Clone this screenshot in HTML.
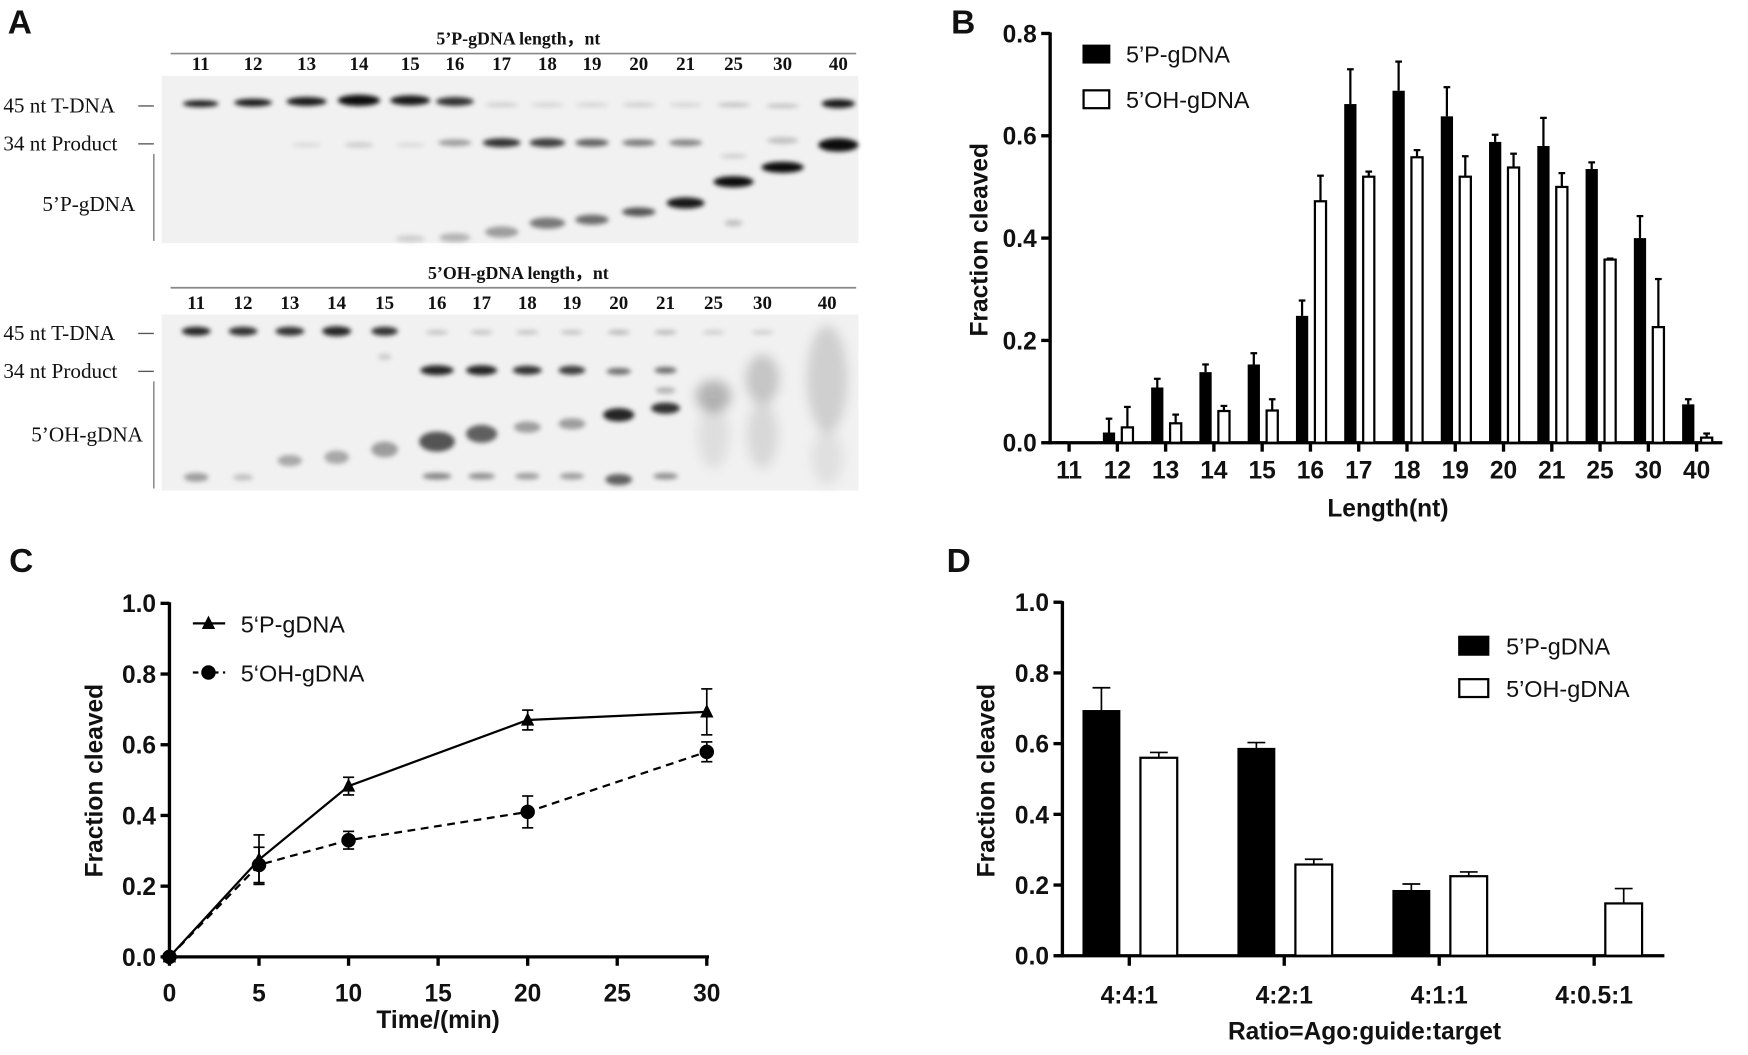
<!DOCTYPE html>
<html><head><meta charset="utf-8"><style>
html,body{margin:0;padding:0;background:#fff;}
svg{display:block;}
.ax{font-family:"Liberation Sans",sans-serif;font-weight:bold;fill:#111;}
.lg{font-family:"Liberation Sans",sans-serif;fill:#111;}
.sf{font-family:"Liberation Serif",serif;fill:#111;}
</style></head><body>
<svg id="fig" width="1748" height="1055" viewBox="0 0 1568 946" preserveAspectRatio="none" xmlns="http://www.w3.org/2000/svg">
<defs>
<filter id="blur1" x="-50%" y="-100%" width="200%" height="300%"><feGaussianBlur stdDeviation="2.2"/></filter>
<filter id="blur2" x="-50%" y="-100%" width="200%" height="300%"><feGaussianBlur stdDeviation="5"/></filter>
</defs>
<g id="panelA"></g>
<g id="panelB"></g>
<g id="panelC"></g>
<g id="panelD"></g>
</svg>
<script>
// ---------- Panel B data ----------
const bCategories = ["11","12","13","14","15","16","17","18","19","20","21","25","30","40"];
const bPValues = [0.003,0.02,0.108,0.138,0.153,0.248,0.662,0.688,0.638,0.588,0.58,0.535,0.4,0.075];
const bPErrors = [0.0,0.027,0.017,0.015,0.022,0.03,0.068,0.057,0.057,0.014,0.055,0.013,0.043,0.01];
const bOHValues = [0.0,0.03,0.038,0.062,0.063,0.472,0.52,0.558,0.52,0.538,0.5,0.358,0.226,0.01];
const bOHErrors = [0.0,0.04,0.017,0.01,0.022,0.05,0.01,0.014,0.04,0.027,0.027,0.002,0.094,0.008];
const bYTicks = [0.0,0.2,0.4,0.6,0.8];
// ---------- Panel C data ----------
const cTimes = [0,5,10,20,30];
const cPValues = [0,0.275,0.483,0.67,0.693];
const cPErrors = [0,0.07,0.025,0.028,0.065];
const cOHValues = [0,0.26,0.33,0.41,0.58];
const cOHErrors = [0,0.05,0.025,0.045,0.028];
const cXTicks = [0,5,10,15,20,25,30];
const cYTicks = [0.0,0.2,0.4,0.6,0.8,1.0];
// ---------- Panel D data ----------
const dCategories = ["4:4:1","4:2:1","4:1:1","4:0.5:1"];
const dPValues = [0.695,0.588,0.186,0];
const dPErrors = [0.063,0.015,0.017,0];
const dOHValues = [0.56,0.258,0.225,0.148];
const dOHErrors = [0.015,0.015,0.012,0.042];
const dYTicks = [0.0,0.2,0.4,0.6,0.8,1.0];

const NS="http://www.w3.org/2000/svg";
function mk(parent,tag,attrs,text){const e=document.createElementNS(NS,tag);for(const k in attrs)e.setAttribute(k,attrs[k]);if(text!==undefined)e.textContent=text;parent.appendChild(e);return e;}

// ---------- Panel A (gels) ----------
const A=document.getElementById('panelA');
let t=mk(A,'text',{x:7,y:30,class:'ax','font-size':30});t.textContent='A';


function gel(top,header,lanes,hdrY,lineY,numY,gy0,gy1,bands,smears,labels,vline){
  const g=mk(A,'g',{});
  
  
  const h=mk(g,'text',{x:465,y:hdrY,class:'sf','font-size':16,'font-weight':'bold','text-anchor':'middle'},header);
  
  
  mk(g,'line',{x1:153,x2:768,y1:lineY,y2:lineY,stroke:'#888','stroke-width':1.5});
  mk(g,'rect',{x:145,y:gy0,width:625,height:gy1-gy0,fill:'#f1f1f1'});
  lanes.forEach((l)=>{const n=mk(g,'text',{x:l[1],y:numY,class:'sf','font-size':17,'font-weight':'bold','text-anchor':'middle'},l[0]);
    
    });
  smears.forEach(s=>{mk(g,'ellipse',{cx:s[0],cy:s[1],rx:s[2],ry:s[3],fill:'#000','fill-opacity':s[4],filter:'url(#blur2)'});});
  bands.forEach(b=>{mk(g,'ellipse',{cx:b[0],cy:b[1],rx:b[2],ry:b[3],fill:'#000','fill-opacity':b[4],filter:'url(#blur1)'});});
  labels.forEach(lb=>{const e=mk(g,'text',{x:lb[1],y:lb[2],class:'sf','font-size':19},lb[0]);
    
    
    if(lb[3])mk(g,'line',{x1:lb[3],x2:lb[3]+14,y1:lb[2]-6,y2:lb[2]-6,stroke:'#555','stroke-width':1.2});});
  mk(g,'line',{x1:vline[0],x2:vline[0],y1:vline[1],y2:vline[2],stroke:'#777','stroke-width':1.2});
}
const topLanes=[["11",180],["12",227],["13",275],["14",322],["15",368],["16",408],["17",450],["18",491],["19",531],["20",573],["21",615],["25",658],["30",702],["40",752]];
const topBands=[[180,93,16,3,0.9],[227,92,17,3.5,0.9],[275,91,18,4,0.9],[322,90,19,5,0.95],[368,90,18,4.5,0.9],[408,91,17,4,0.8],
[450,94,15,2,0.15],[491,94,15,2,0.12],[531,94,15,2,0.12],[573,94,15,2,0.15],[615,94,15,2,0.12],[658,94,15,2,0.2],[702,95,15,2,0.2],[752,93,15,4,0.9],
[275,130,13,2,0.1],[322,130,13,2.5,0.15],[368,130,13,2,0.1],[408,128,15,3,0.35],[450,128,17,4,0.8],[491,128,16,4,0.75],[531,128,15,3.5,0.6],[573,128,15,3,0.5],[615,128,15,3,0.45],[658,140,12,2,0.15],[702,126,14,3,0.2],
[615,182,17,5,0.9],[573,190,15,4,0.65],[531,197,15,4.5,0.55],[491,200,16,5,0.5],[450,208,15,5,0.35],[408,213,14,4,0.25],[368,214,13,3,0.15],[658,163,18,5,0.95],[702,150,19,5,0.95],[752,130,18,6,0.95],[658,200,8,3,0.2]];
gel(true,"5’P-gDNA length，nt",topLanes,40,48,63,68,218,topBands,[],[["45 nt T-DNA",3,101,124],["34 nt Product",3,135,124],["5’P-gDNA",38,189,0]],[138,138,216]);
const botLanes=[["11",176],["12",218],["13",260],["14",302],["15",345],["16",392],["17",432],["18",473],["19",513],["20",555],["21",597],["25",640],["30",684],["40",742]];
const botBands=[[176,297,13,4,0.85],[218,297,13,4,0.8],[260,297,13,4,0.8],[302,297,13,4.5,0.85],[345,297,12,4,0.8],
[392,298,10,2,0.2],[432,298,10,2,0.2],[473,298,10,2,0.2],[513,298,10,2,0.2],[555,298,10,2,0.25],[597,298,10,2,0.25],[640,298,10,2,0.15],[684,298,10,2,0.15],
[392,332,15,4.5,0.85],[432,332,14,4.5,0.85],[473,332,13,4,0.8],[513,332,12,4,0.75],[555,333,11,3,0.55],[597,332,10,3,0.55],[345,320,6,3,0.15],
[597,366,13,5,0.8],[555,372,14,6,0.85],[513,380,12,5,0.35],[473,383,12,5,0.35],[432,389,14,8,0.6],[392,396,16,9,0.65],[345,403,12,7,0.35],[302,410,11,6,0.3],[260,413,11,5,0.3],
[176,428,11,4,0.35],[218,428,9,3,0.2],[392,427,13,3,0.45],[432,427,12,3,0.4],[473,427,11,3,0.35],[513,427,11,3,0.35],[555,430,12,5,0.6],[597,427,11,3,0.4],[597,350,9,3,0.25]];
const botSmears=[[640,355,16,14,0.25],[640,390,14,30,0.08],[684,340,15,22,0.18],[684,390,14,30,0.1],[742,340,18,48,0.14],[742,410,14,25,0.07]];
gel(false,"5’OH-gDNA length，nt",botLanes,250,258,277,282,440,botBands,botSmears,[["45 nt T-DNA",3,305,124],["34 nt Product",3,339,124],["5’OH-gDNA",28,396,0]],[138,342,438]);

// ---------- common axis helpers ----------
function yAxis(g,x,y0,y1,vmax,ticks,fmt){
  const ys=v=>y0-(v/vmax)*(y0-y1);
  mk(g,'line',{x1:x,x2:x,y1:y0+1.5,y2:y1-1,stroke:'#000','stroke-width':3});
  ticks.forEach(v=>{mk(g,'line',{x1:x-8,x2:x,y1:ys(v),y2:ys(v),stroke:'#000','stroke-width':3});
    const l=mk(g,'text',{x:x-12,y:ys(v)+8,class:'ax','font-size':22,'text-anchor':'end'},v.toFixed(1));
    
    });
  return ys;
}
function label(g,txt,x,y,size,name,rot){
  const e=mk(g,'text',{x:x,y:y,class:'ax','font-size':size,'text-anchor':'middle'},txt);
  if(rot)e.setAttribute('transform','rotate(-90 '+x+' '+y+')');
  
  
  return e;
}
function errBar(g,cx,ytop,yv,cap,sw){
  mk(g,'line',{x1:cx,x2:cx,y1:yv,y2:ytop,stroke:'#000','stroke-width':sw});
  mk(g,'line',{x1:cx-cap,x2:cx+cap,y1:ytop,y2:ytop,stroke:'#000','stroke-width':sw});
}

// ---------- Panel B ----------
const B=document.getElementById('panelB');
label(B,'B',864,30,30,'panel-b-label');
const bx0=942, bY0=397, bY1=30;
const bys=yAxis(B,bx0,bY0,bY1,0.8,bYTicks);
const bxs=i=>959+i*43.3;
mk(B,'line',{x1:bx0,x2:1545,y1:bY0,y2:bY0,stroke:'#000','stroke-width':3});
bCategories.forEach((c,i)=>{
  const cx=bxs(i);
  mk(B,'line',{x1:cx,x2:cx,y1:bY0,y2:bY0+8,stroke:'#000','stroke-width':3});
  const l=mk(B,'text',{x:cx,y:429,class:'ax','font-size':22,'text-anchor':'middle'},c);
  
  
  const pb=mk(B,'rect',{x:cx-13,y:bys(bPValues[i]),width:11,height:bY0-bys(bPValues[i]),fill:'#000'});
  
  
  if(bPErrors[i]>0) errBar(B,cx-7.5,bys(bPValues[i]+bPErrors[i]),bys(bPValues[i]),3,2);
  const ob=mk(B,'rect',{x:cx+4,y:bys(bOHValues[i]),width:10,height:Math.max(0,bY0-bys(bOHValues[i])),fill:'#fff',stroke:'#000','stroke-width':2});
  
  
  if(bOHErrors[i]>0) errBar(B,cx+9,bys(bOHValues[i]+bOHErrors[i]),bys(bOHValues[i]),3,2);
});
label(B,'Fraction cleaved',886,215,22,'y-axis-title',true);
label(B,'Length(nt)',1245,463,22,'x-axis-title');
let lgB=mk(B,'g',{});


mk(lgB,'rect',{x:971,y:40,width:25,height:17,fill:'#000'});
mk(lgB,'text',{x:1010,y:56,class:'lg','font-size':21},'5’P-gDNA');
mk(lgB,'rect',{x:972,y:81,width:23,height:16,fill:'#fff',stroke:'#000','stroke-width':2});
mk(lgB,'text',{x:1010,y:97,class:'lg','font-size':21},'5’OH-gDNA');

// ---------- Panel C ----------
const C=document.getElementById('panelC');
label(C,'C',19,513,30,'panel-c-label');
const cx0=152, cY0=858, cY1=541;
const cys=yAxis(C,cx0,cY0,cY1,1.0,cYTicks);
const cxs=v=>cx0+v/30*(634-cx0);
mk(C,'line',{x1:cx0,x2:636,y1:cY0,y2:cY0,stroke:'#000','stroke-width':3});
cXTicks.forEach(v=>{mk(C,'line',{x1:cxs(v),x2:cxs(v),y1:cY0,y2:cY0+8,stroke:'#000','stroke-width':3});
  const l=mk(C,'text',{x:cxs(v),y:898,class:'ax','font-size':22,'text-anchor':'middle'},String(v));
  
  });
let ohPts=cTimes.map((t,i)=>cxs(t)+','+cys(cOHValues[i])).join(' ');
let ohLine=mk(C,'polyline',{points:ohPts,fill:'none',stroke:'#000','stroke-width':2,'stroke-dasharray':'7,5'});


let pPts=cTimes.map((t,i)=>cxs(t)+','+cys(cPValues[i])).join(' ');
let pLine=mk(C,'polyline',{points:pPts,fill:'none',stroke:'#000','stroke-width':2});


cTimes.forEach((t,i)=>{
  const x=cxs(t);
  if(cOHErrors[i]>0){errBar(C,x,cys(cOHValues[i]+cOHErrors[i]),cys(cOHValues[i]-cOHErrors[i]),5,1.5);
    mk(C,'line',{x1:x-5,x2:x+5,y1:cys(cOHValues[i]-cOHErrors[i]),y2:cys(cOHValues[i]-cOHErrors[i]),stroke:'#000','stroke-width':1.5});}
  const c=mk(C,'circle',{cx:x,cy:cys(cOHValues[i]),r:6.5,fill:'#000'});
  
  
  if(cPErrors[i]>0){errBar(C,x,cys(cPValues[i]+cPErrors[i]),cys(cPValues[i]-cPErrors[i]),5,1.5);
    mk(C,'line',{x1:x-5,x2:x+5,y1:cys(cPValues[i]-cPErrors[i]),y2:cys(cPValues[i]-cPErrors[i]),stroke:'#000','stroke-width':1.5});}
  const y=cys(cPValues[i]);
  const tr=mk(C,'polygon',{points:(x-6)+','+(y+5)+' '+(x+6)+','+(y+5)+' '+x+','+(y-7),fill:'#000'});
  
  
});
label(C,'Fraction cleaved',92,700,22,'y-axis-title',true);
label(C,'Time/(min)',393,922,22,'x-axis-title');
let lgC=mk(C,'g',{});


mk(lgC,'line',{x1:173,x2:202,y1:559,y2:559,stroke:'#000','stroke-width':2});
mk(lgC,'polygon',{points:'181,564 193,564 187,552',fill:'#000'});
mk(lgC,'text',{x:216,y:567,class:'lg','font-size':21},'5‘P-gDNA');
mk(lgC,'line',{x1:173,x2:202,y1:603,y2:603,stroke:'#000','stroke-width':2,'stroke-dasharray':'5,4'});
mk(lgC,'circle',{cx:187,cy:603,r:6.5,fill:'#000'});
mk(lgC,'text',{x:216,y:611,class:'lg','font-size':21},'5‘OH-gDNA');

// ---------- Panel D ----------
const D=document.getElementById('panelD');
label(D,'D',860,513,30,'panel-d-label');
const dx0=953, dY0=857, dY1=540;
const dys=yAxis(D,dx0,dY0,dY1,1.0,dYTicks);
const dxs=i=>1013+i*139;
mk(D,'line',{x1:dx0,x2:1493,y1:dY0,y2:dY0,stroke:'#000','stroke-width':3});
dCategories.forEach((c,i)=>{
  const cx=dxs(i);
  mk(D,'line',{x1:cx,x2:cx,y1:dY0,y2:dY0+9,stroke:'#000','stroke-width':3});
  const l=mk(D,'text',{x:cx,y:900,class:'ax','font-size':22,'text-anchor':'middle'},c);
  
  
  if(dPValues[i]>0){
    const pb=mk(D,'rect',{x:cx-42,y:dys(dPValues[i]),width:34,height:dY0-dys(dPValues[i]),fill:'#000'});
    
    
    errBar(D,cx-25,dys(dPValues[i]+dPErrors[i]),dys(dPValues[i]),8,1.5);
  }
  const ob=mk(D,'rect',{x:cx+10,y:dys(dOHValues[i]),width:33,height:dY0-dys(dOHValues[i]),fill:'#fff',stroke:'#000','stroke-width':2});
  
  
  errBar(D,cx+26.5,dys(dOHValues[i]+dOHErrors[i]),dys(dOHValues[i]),8,1.5);
});
label(D,'Fraction cleaved',892,700,22,'y-axis-title',true);
label(D,'Ratio=Ago:guide:target',1224,932,22,'x-axis-title');
let lgD=mk(D,'g',{});


mk(lgD,'rect',{x:1308,y:570,width:28,height:18,fill:'#000'});
mk(lgD,'text',{x:1351,y:587,class:'lg','font-size':21},'5’P-gDNA');
mk(lgD,'rect',{x:1309,y:609,width:26,height:16,fill:'#fff',stroke:'#000','stroke-width':2});
mk(lgD,'text',{x:1351,y:625,class:'lg','font-size':21},'5’OH-gDNA');
</script>
</body></html>
